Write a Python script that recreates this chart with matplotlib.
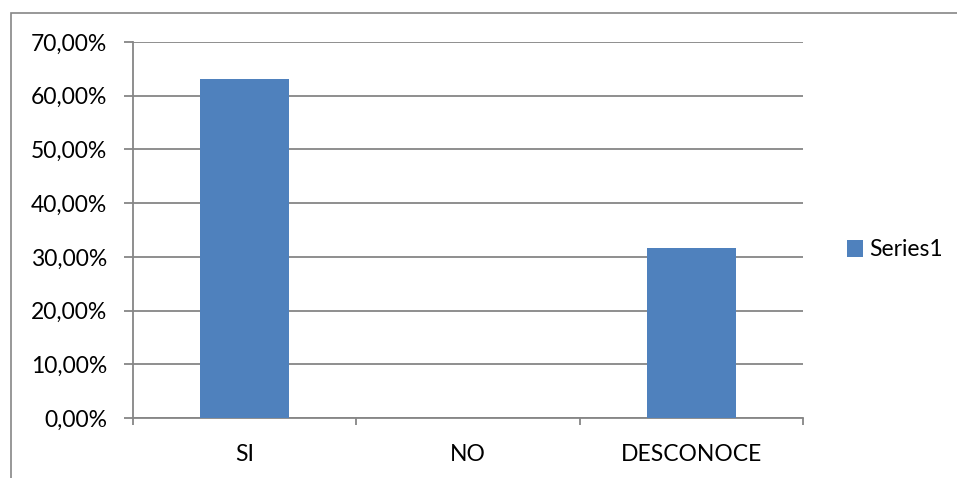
import numpy as np
import matplotlib
matplotlib.use('Agg')
import matplotlib.pyplot as plt
from matplotlib.ticker import FuncFormatter
from matplotlib.patches import Rectangle

# ---------------- DATA ----------------
categories = ['SI', 'NO', 'DESCONOCE']
values = [0.6316, 0.0, 0.3158]
series_name = 'Series1'
y_ticks = [0.0, 0.1, 0.2, 0.3, 0.4, 0.5, 0.6, 0.7]

plt.rcParams['font.family'] = ['Lato', 'DejaVu Sans']
FS = 16.5

W, H = 957, 478
fig = plt.figure(figsize=(W / 100, H / 100), dpi=100)

# outer chart border (only top and left visible in the crop)
fig.patches.append(Rectangle((11 / W, -0.1), 1.2, (H - 13) / H + 0.1, transform=fig.transFigure,
                             fill=False, edgecolor='#868686', linewidth=1.2))

ax = fig.add_axes([133 / W, (H - 418) / H, (803 - 133) / W, (418 - 42) / H])

x = np.arange(len(categories))
ax.bar(x, values, width=0.4, color='#4F81BD', label=series_name, zorder=3)

ax.set_xlim(-0.5, len(categories) - 0.5)
ax.set_ylim(0, 0.7)
ax.set_yticks(y_ticks)
ax.yaxis.set_major_formatter(FuncFormatter(lambda v, p: f'{v * 100:.2f}%'.replace('.', ',')))
ax.yaxis.grid(True, color='#868686', linewidth=1.3, zorder=0)

ax.set_xticks(x)
ax.set_xticklabels(categories)
ax.set_xticks(np.arange(len(categories) + 1) - 0.5, minor=True)
ax.tick_params(axis='x', which='major', length=0, pad=19, labelsize=FS)
ax.tick_params(axis='x', which='minor', length=5, width=1.3, color='#868686', direction='out')
ax.tick_params(axis='y', length=6.5, width=1.3, color='#868686', labelsize=FS, pad=12)

for side in ['top', 'right']:
    ax.spines[side].set_visible(False)
for side in ['left', 'bottom']:
    ax.spines[side].set_color('#868686')
    ax.spines[side].set_linewidth(1.3)

fig.legend(loc='center left', bbox_to_anchor=(826 / W, (H - 250) / H), frameon=False,
           fontsize=FS, handlelength=0.7, handleheight=0.7, handletextpad=0.3)

fig.savefig('out.png', dpi=100)
